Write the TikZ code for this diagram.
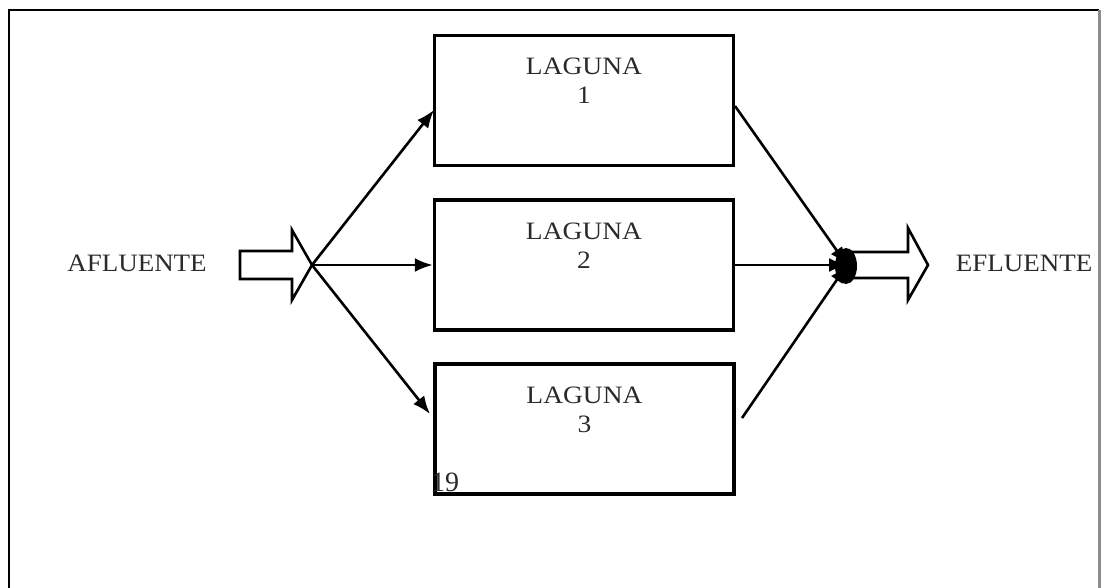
\documentclass[tikz,border=0pt]{standalone}
\usepackage{fontspec}
\setmainfont{Liberation Serif}
\usetikzlibrary{arrows.meta}
\definecolor{txt}{HTML}{2A2A2A}
\tikzset{
  lagbox/.style={draw=black,line width=3.5pt,minimum width=299pt,minimum height=130pt,inner sep=0pt},
  lagtext/.style={anchor=north,align=center,font=\fontsize{25}{29}\selectfont,text=txt,inner sep=0pt,xscale=1.1,transform shape},
  sidetext/.style={font=\fontsize{25}{27}\selectfont,text=txt,inner sep=0pt,xscale=1.08,transform shape},
  flow/.style={line width=2.6pt,-{Latex[length=18pt,width=14pt]}},
  blockarrow/.style={draw=black,line width=2.6pt,fill=white,line join=miter}
}
\begin{document}
\begin{tikzpicture}[x=1pt,y=-1pt]
\useasboundingbox (0,0) rectangle (1102,587);
% outer frame
\draw[line width=2.5pt] (9,600) -- (9,10) -- (1099,10);
\draw[line width=3pt,draw=black!45] (1099,10) -- (1099,600);
% boxes
\node[lagbox] (b1) at (584,100.5) {};
\node[lagbox] (b2) at (584,265) {};
\node[lagbox] (b3) at (584.5,429) {};
\node[lagtext] (t1) at ([yshift=-24pt]b1.north) {LAGUNA\\1};
\node[lagtext] (t2) at ([yshift=-24pt]b2.north) {LAGUNA\\2};
\node[lagtext] (t3) at ([yshift=-24pt]b3.north) {LAGUNA\\3};
% side labels
\node[sidetext] (af) at (137,263) {AFLUENTE};
\node[sidetext] (ef) at (1024,263) {EFLUENTE};
% page number
\node[font=\fontsize{28}{30}\selectfont,text=txt,inner sep=0pt] (pg) at (445,482) {19};
% input block arrow
\coordinate (in) at (312,265);
\draw[blockarrow] (240,251) -- (292,251) -- (292,230) -- (in) -- (292,300) -- (292,279) -- (240,279) -- cycle;
% output block arrow
\coordinate (out) at (847,265);
\draw[blockarrow] (850,252) -- (908,252) -- (908,228) -- (928,265) -- (908,300) -- (908,278) -- (850,278);
% distribution arrows
\coordinate (e1) at (434,110);
\coordinate (e3) at (430,414);
\draw[flow] (in) -- (e1);
\draw[flow] (in) -- (b2.west);
\draw[flow] (in) -- (e3);
% collection arrows
\coordinate (s1) at (735,106);
\coordinate (s3) at (742,418);
\draw[flow] (s1) -- (out);
\draw[flow] (b2.east) -- (out);
\draw[flow] (s3) -- (out);
\fill (846,266) ellipse (11pt and 18pt);
\end{tikzpicture}
\end{document}
